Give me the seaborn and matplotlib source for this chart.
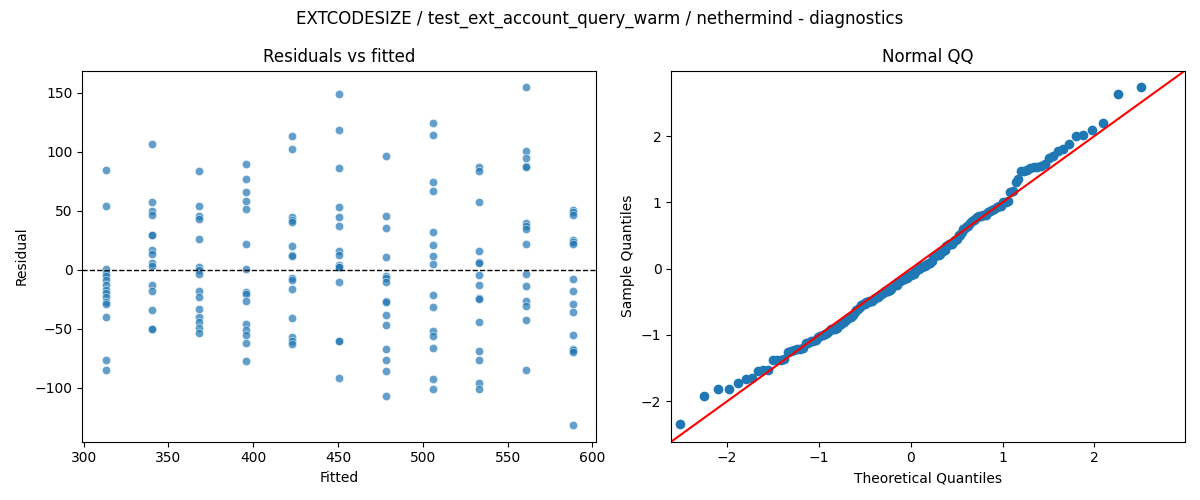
import numpy as np
import pandas as pd
import seaborn as sns
import matplotlib
matplotlib.use("Agg")
import matplotlib.pyplot as plt
from statistics import NormalDist

# fitted value of each group
fitted_levels = [313.0, 340.5, 368.0, 395.6, 423.1, 450.7, 478.2, 505.8, 533.3, 560.9, 588.4]

# residuals per fitted group
res_313 = [84.5, 54.0, 0.6, -2.3, -5.6, -9.0, -12.7, -16.9, -19.7, -23.1, -27.3, -29.0, -40.0, -76.0, -84.7]
res_340 = [106.4, 57.4, 49.5, 46.2, 29.6, 29.4, 16.9, 13.2, 5.6, 3.4, -12.7, -17.7, -33.8, -50.1, -50.3]
res_368 = [83.6, 54.0, 45.9, 43.1, 25.9, 2.3, -0.3, -3.4, -18.3, -23.1, -33.2, -40.0, -44.5, -49.3, -53.5]
res_396 = [89.2, 76.6, 65.6, 58.3, 51.2, 21.7, 0.6, -18.9, -20.3, -26.2, -45.9, -50.7, -54.9, -61.9, -76.9]
res_423 = [113.2, 101.9, 45.0, 42.2, 40.8, 20.3, 12.7, 12.1, -7.0, -9.0, -16.3, -40.8, -57.2, -60.5, -62.5]
res_451 = [148.4, 118.2, 85.9, 53.2, 44.5, 37.2, 16.0, 12.7, 4.2, 2.8, 2.3, -10.4, -60.0, -60.5, -91.5]
res_478 = [96.0, 45.3, 35.2, 10.7, -5.6, -7.0, -9.9, -26.7, -27.6, -38.3, -46.7, -67.0, -76.3, -85.6, -106.7]
res_506 = [123.9, 113.7, 74.0, 66.4, 31.8, 20.8, 11.5, 5.1, -21.4, -31.5, -51.8, -56.3, -66.2, -92.3, -100.8]
res_533 = [86.7, 83.9, 57.2, 15.8, 7.0, 5.6, -4.2, -13.0, -23.9, -24.8, -44.2, -69.0, -76.3, -95.7, -100.8]
res_561 = [154.3, 100.2, 94.3, 87.8, 87.3, 39.4, 37.2, 34.3, 21.7, -3.7, -13.8, -26.2, -30.4, -42.5, -84.7]
res_588 = [50.7, 48.7, 46.2, 25.3, 23.9, 22.0, -7.9, -18.0, -29.0, -35.8, -55.2, -67.0, -68.1, -69.5, -131.2]

groups = [res_313, res_340, res_368, res_396, res_423, res_451,
          res_478, res_506, res_533, res_561, res_588]

rows = []
for fv, res in zip(fitted_levels, groups):
    for r in res:
        rows.append({"fitted": fv, "residual": r})
df = pd.DataFrame(rows)

# normal QQ: standardised sorted residuals against normal quantiles
resid = np.sort(df["residual"].to_numpy())
n = len(resid)
sample_q = (resid - resid.mean()) / resid.std()
theo_q = np.array([NormalDist().inv_cdf(i / (n + 1)) for i in range(1, n + 1)])
qq = pd.DataFrame({"theoretical": theo_q, "sample": sample_q})

fig, (ax1, ax2) = plt.subplots(1, 2, figsize=(12, 5), dpi=100)

sns.scatterplot(data=df, x="fitted", y="residual", alpha=0.7, ax=ax1)
ax1.axhline(0, color="black", linestyle="--", linewidth=1)
ax1.set_title("Residuals vs fitted")
ax1.set_xlabel("Fitted")
ax1.set_ylabel("Residual")

ax2.set_xmargin(0.02)
sns.scatterplot(data=qq, x="theoretical", y="sample", s=49, linewidth=0,
                color="#1f77b4", ax=ax2)
xl, yl = ax2.get_xlim(), ax2.get_ylim()
lo, hi = min(xl[0], yl[0]), max(xl[1], yl[1])
ax2.plot([lo, hi], [lo, hi], "r")
ax2.set_xlim(lo, hi)
ax2.set_ylim(lo, hi)
ax2.set_title("Normal QQ")
ax2.set_xlabel("Theoretical Quantiles")
ax2.set_ylabel("Sample Quantiles")

fig.suptitle("EXTCODESIZE / test_ext_account_query_warm / nethermind - diagnostics")
plt.tight_layout()
plt.savefig("out.png")
